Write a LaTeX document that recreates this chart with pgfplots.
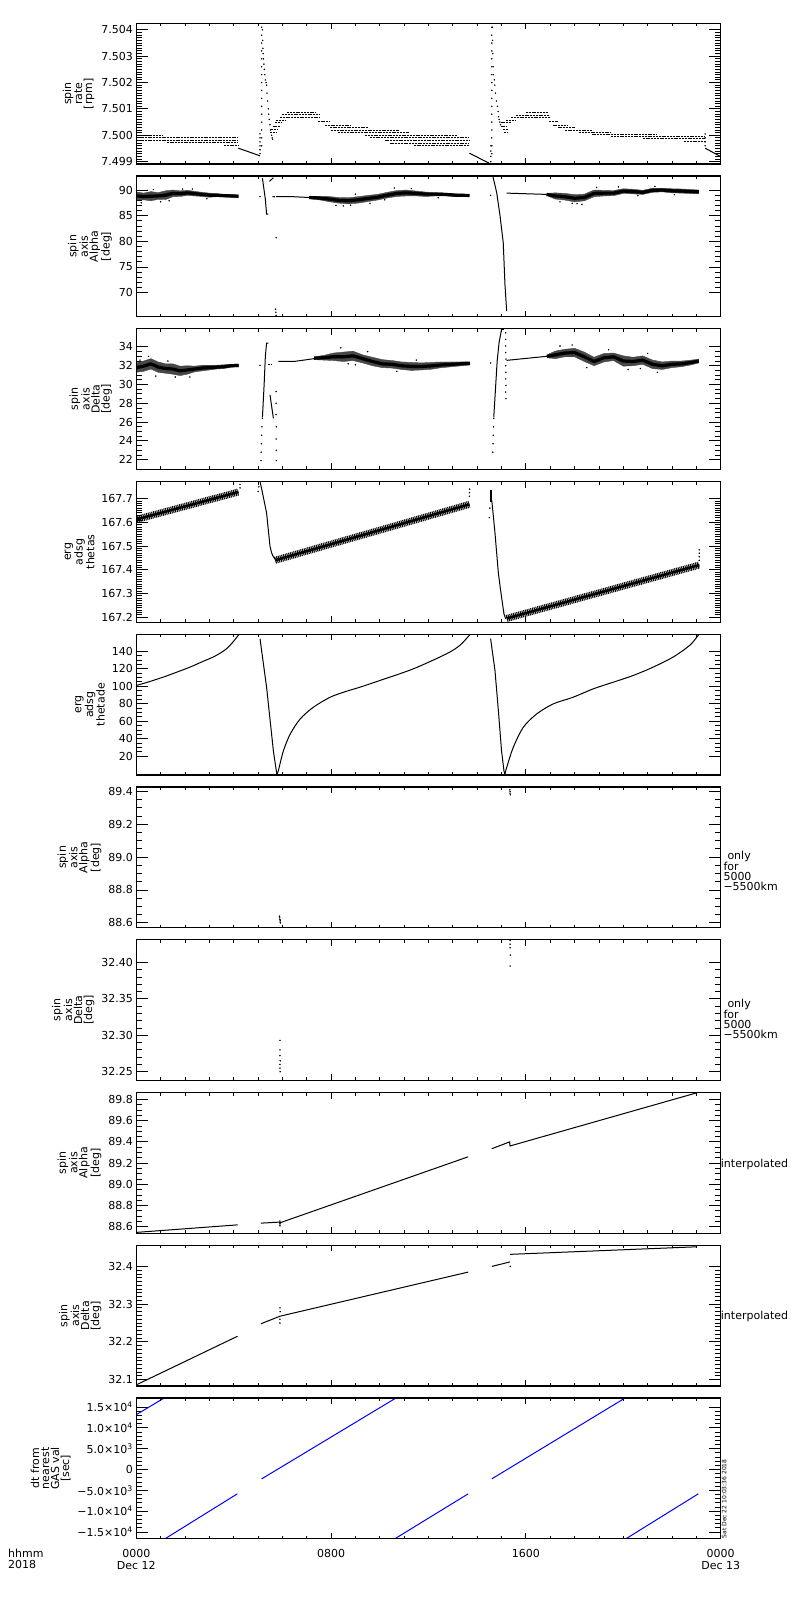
\documentclass[border=0pt]{standalone}
\usepackage{fontspec}
\setmainfont{DejaVu Sans}
\usepackage{pgfplots}
\pgfplotsset{compat=1.18}
\newcommand{\lab}{\fontsize{11}{12}\selectfont}
\newcommand{\hrow}[3]{\addplot[black, line width=0.8pt, dash pattern=on 2pt off 0.8pt] coordinates {(#1,#3) (#2,#3)};}
\pgfplotsset{
  base/.style={width=584.4pt, height=140.7pt, scale only axis, xmin=0, xmax=24, anchor=south west,
    axis line style={line width=1.1pt}, every tick/.style={black, line width=0.9pt},
    tick label style={font=\lab}, label style={font=\fontsize{11}{10}\selectfont},
    scaled y ticks=false, scaled x ticks=false,
    /pgf/number format/assume math mode=true},
  dataax/.style={base, xtick=\empty, major tick length=12pt, minor tick length=6pt,
    ylabel style={align=center}},
  tickax/.style={base, ytick=\empty, ymin=0, ymax=1, xtick={0,8,16,24}, minor xtick={1,2,...,23},
    major tick length=6pt, minor tick length=3pt, xticklabels={}},
  dots/.style={only marks, mark=*, mark size=0.5pt, black},
  ln/.style={black, line width=1pt},
  band/.style={black!72, fill=black!72, line width=0.4pt},
  core/.style={black, line width=3.2pt, line join=round},
  hatch/.style={black, line width=7pt, dash pattern=on 1pt off 0.8pt},
}
\begin{document}
\begin{tikzpicture}[x=1pt,y=1pt]
\useasboundingbox (0,0) rectangle (800,1600);

% ---------------- Panel 1: spin rate
\begin{axis}[dataax, at={(136.3pt,1436pt)}, ymin=7.49891, ymax=7.50425,
  ytick={7.499,7.500,7.501,7.502,7.503,7.504}, yticklabels={7.499,7.500,7.501,7.502,7.503,7.504},
  minor y tick num=9, ylabel={spin\\rate\\{[rpm]}}]
\hrow{0}{1.05}{7.50001}
\hrow{0}{4.19}{7.49991}
\hrow{0}{4.19}{7.49982}
\hrow{1.25}{4.19}{7.49972}
\hrow{3.6}{4.19}{7.49960}
\addplot[ln] coordinates {(4.19,7.49951) (5.08,7.49922)};
\addplot[dots] coordinates {(5.08,7.49930)(5.08,7.49945)(5.08,7.49960)(5.08,7.49975)(5.08,7.49990)(5.08,7.50005)
 (5.15,7.4996)(5.15,7.4999)(5.15,7.5002)(5.15,7.5005)(5.15,7.5008)(5.15,7.5011)(5.15,7.5014)(5.15,7.5017)
 (5.15,7.5020)(5.15,7.5023)(5.15,7.5026)(5.15,7.5029)(5.15,7.5032)(5.15,7.5035)(5.15,7.5038)(5.15,7.5041)
 (5.18,7.5040)(5.19,7.5036)(5.20,7.5033)(5.21,7.5031)(5.22,7.5029)(5.24,7.5027)(5.26,7.5025)(5.28,7.5023)
 (5.30,7.5021)(5.33,7.5020)(5.35,7.5019)(5.37,7.5016)(5.39,7.5013)(5.42,7.5010)(5.44,7.5008)(5.46,7.5006)
 (5.49,7.5004)(5.52,7.5002)(5.56,7.5000)(5.58,7.49990)(5.60,7.49985)};
\hrow{5.5}{5.75}{7.50010}
\hrow{5.55}{5.8}{7.50022}
\hrow{5.6}{5.9}{7.50035}
\hrow{5.7}{6.0}{7.50048}
\hrow{5.75}{6.1}{7.50058}
\hrow{5.9}{7.54}{7.50068}
\hrow{6.0}{7.54}{7.50078}
\hrow{6.2}{7.4}{7.50087}
\hrow{7.45}{7.95}{7.50052}
\hrow{7.75}{8.8}{7.50039}
\hrow{7.95}{9.5}{7.50029}
\hrow{8.0}{10.8}{7.50019}
\hrow{8.3}{11.2}{7.50010}
\hrow{9.4}{13.15}{7.50000}
\hrow{9.6}{13.68}{7.49990}
\hrow{10.2}{13.68}{7.49981}
\hrow{10.4}{13.68}{7.49971}
\hrow{11.4}{13.68}{7.49960}
\addplot[ln] coordinates {(13.68,7.49932) (14.55,7.49891)};
\addplot[dots] coordinates {(14.56,7.4990)(14.56,7.4992)(14.56,7.4994)(14.56,7.4996)
 (14.6,7.4993)(14.6,7.4996)(14.6,7.4999)(14.6,7.5002)(14.6,7.5005)(14.6,7.5008)(14.6,7.5011)(14.6,7.5014)
 (14.6,7.5017)(14.6,7.5020)(14.6,7.5023)(14.6,7.5026)(14.6,7.5029)(14.6,7.5032)(14.6,7.5035)(14.6,7.5038)(14.6,7.5041)
 (14.62,7.5041)(14.63,7.5036)(14.64,7.5031)(14.65,7.5026)(14.67,7.5023)(14.70,7.5021)(14.72,7.5019)(14.75,7.5016)
 (14.79,7.5013)(14.83,7.5011)(14.86,7.5009)(14.88,7.5007)(14.90,7.5006)(14.93,7.5005)(14.96,7.5004)
 (23.36,7.49960)(23.36,7.49975)(23.36,7.49990)(23.36,7.50005)};
\hrow{14.96}{15.41}{7.50048}
\hrow{14.96}{15.2}{7.50035}
\hrow{15.05}{15.25}{7.50022}
\hrow{15.1}{15.25}{7.50012}
\hrow{15.2}{15.55}{7.50058}
\hrow{15.4}{16.98}{7.50068}
\hrow{15.6}{16.98}{7.50077}
\hrow{16.0}{16.9}{7.50086}
\hrow{16.95}{17.3}{7.50052}
\hrow{17.1}{17.7}{7.50039}
\hrow{17.3}{18.0}{7.50029}
\hrow{17.6}{18.7}{7.50020}
\hrow{18.2}{19.5}{7.50011}
\hrow{18.7}{21.4}{7.50003}
\hrow{19.5}{23.36}{7.49995}
\hrow{20.8}{23.36}{7.49987}
\hrow{22.5}{23.36}{7.49978}
\addplot[ln] coordinates {(23.36,7.49951) (24,7.49919)};
\end{axis}
\begin{axis}[tickax, at={(136.3pt,1436pt)}]\end{axis}

% ---------------- Panel 2: spin axis alpha
\begin{axis}[dataax, at={(136.3pt,1283.25pt)}, ymin=65.32, ymax=92.73,
  ytick={70,75,80,85,90}, yticklabels={70,75,80,85,90}, minor y tick num=4,
  ylabel={spin\\axis\\Alpha\\{[deg]}}]
\addplot[band] coordinates {(0,89.65)(0.3,89.4)(0.6,89.7)(0.9,89.5)(1.2,89.85)(1.5,90.0)(1.8,89.85)(2.1,89.95)(2.4,89.75)(2.7,89.55)(3.0,89.4)(3.3,89.3)(3.6,89.15)(3.9,89.1)(4.19,89.05)
 (4.19,88.55)(3.9,88.6)(3.6,88.65)(3.3,88.7)(3.0,88.6)(2.7,88.75)(2.4,88.85)(2.1,88.95)(1.8,88.75)(1.5,88.7)(1.2,88.15)(0.9,88.2)(0.6,87.9)(0.3,88.1)(0,88.05)};
\addplot[core] coordinates {(0,88.85)(0.3,88.75)(0.6,88.8)(0.9,88.85)(1.2,89.0)(1.5,89.35)(1.8,89.3)(2.1,89.45)(2.4,89.3)(2.7,89.15)(3.0,89.0)(3.3,89.0)(3.6,88.9)(3.9,88.85)(4.19,88.8)};
\addplot[band] coordinates {(7.1,88.8)(7.5,88.8)(7.9,88.75)(8.3,88.55)(8.7,88.5)(9.1,88.7)(9.5,88.95)(9.9,89.15)(10.3,89.55)(10.7,89.9)(11.1,90.0)(11.5,89.8)(11.9,89.6)(12.3,89.5)(12.7,89.4)(13.1,89.25)(13.68,89.15)
 (13.68,88.75)(13.1,88.75)(12.7,88.85)(12.3,88.85)(11.9,88.75)(11.5,88.85)(11.1,88.85)(10.7,88.75)(10.3,88.45)(9.9,88.05)(9.5,87.75)(9.1,87.45)(8.7,87.3)(8.3,87.45)(7.9,87.75)(7.5,88.1)(7.1,88.3)};
\addplot[core] coordinates {(7.1,88.55)(7.5,88.45)(7.9,88.25)(8.3,88.0)(8.7,87.9)(9.1,88.1)(9.5,88.35)(9.9,88.6)(10.3,89.0)(10.7,89.35)(11.1,89.45)(11.5,89.35)(11.9,89.2)(12.3,89.2)(12.7,89.15)(13.1,89.0)(13.68,88.95)};
\addplot[band] coordinates {(16.85,89.35)(17.2,89.45)(17.6,89.35)(18.0,89.1)(18.4,89.2)(18.8,90.0)(19.2,89.95)(19.6,89.9)(20.0,90.25)(20.4,90.15)(20.8,89.95)(21.2,90.35)(21.6,90.35)(22.0,90.25)(22.4,90.2)(22.8,90.1)(23.1,90.0)
 (23.1,89.3)(22.8,89.3)(22.4,89.4)(22.0,89.45)(21.6,89.65)(21.2,89.55)(20.8,89.15)(20.4,89.25)(20.0,89.35)(19.6,88.9)(19.2,88.85)(18.8,88.7)(18.4,87.9)(18.0,87.7)(17.6,88.05)(17.2,88.25)(16.85,88.95)};
\addplot[core] coordinates {(16.85,89.15)(17.2,88.85)(17.6,88.7)(18.0,88.4)(18.4,88.55)(18.8,89.35)(19.2,89.4)(19.6,89.4)(20.0,89.8)(20.4,89.7)(20.8,89.55)(21.2,89.95)(21.6,90.0)(22.0,89.85)(22.4,89.8)(22.8,89.7)(23.1,89.65)};
\addplot[ln] coordinates {(5.74,88.7)(6.45,88.7)(7.1,88.55)};
\addplot[ln] coordinates {(15.21,89.4)(16.85,89.15)};
\addplot[ln] coordinates {(5.18,92.3)(5.3,88.2)(5.35,85.3)(5.42,85.3)};
\addplot[ln] coordinates {(5.47,91.7)(5.63,92.4)};
\addplot[ln] coordinates {(14.64,92.73)(14.8,89.5)(14.94,84.9)(15.07,79.7)(15.14,71.6)(15.21,66.4)};
\addplot[dots] coordinates {(5.08,88.7)(5.62,88.7)(5.67,88.7)(5.74,80.7)(5.72,66.8)(5.73,66.2)(5.74,65.6)(14.55,88.96)
 (0.2,87.5)(0.45,89.95)(0.7,90.1)(1.0,87.7)(1.35,87.9)(1.9,90.2)(2.3,90.2)(2.9,88.3)(8.2,87.0)(8.5,86.9)(8.8,87.05)(9.0,89.2)(9.6,87.4)(10.2,88.1)(10.6,90.4)(11.3,90.3)(12.4,88.5)
 (17.4,87.7)(17.9,87.4)(18.1,87.35)(18.3,87.2)(18.9,90.5)(19.8,90.6)(20.6,88.9)(21.3,90.7)(22.1,89.1)};
\end{axis}
\begin{axis}[tickax, at={(136.3pt,1283.25pt)}]\end{axis}

% ---------------- Panel 3: spin axis delta
\begin{axis}[dataax, at={(136.3pt,1130.5pt)}, ymin=20.96, ymax=35.93,
  ytick={22,24,26,28,30,32,34}, yticklabels={22,24,26,28,30,32,34}, minor y tick num=3,
  ylabel={spin\\axis\\Delta\\{[deg]}}]
\addplot[band] coordinates {(0,32.3)(0.3,32.5)(0.6,32.75)(0.9,32.4)(1.2,32.2)(1.5,32.2)(1.8,31.95)(2.1,32.0)(2.4,31.95)(2.7,32.05)(3.0,32.05)(3.3,32.05)(3.6,32.1)(3.9,32.15)(4.2,32.18)
 (4.2,31.88)(3.9,31.85)(3.6,31.7)(3.3,31.65)(3.0,31.55)(2.7,31.45)(2.4,31.35)(2.1,31.1)(1.8,30.95)(1.5,31.1)(1.2,31.2)(0.9,31.3)(0.6,31.65)(0.3,31.4)(0,31.3)};
\addplot[core] coordinates {(0,31.8)(0.3,31.95)(0.6,32.2)(0.9,31.85)(1.2,31.7)(1.5,31.65)(1.8,31.45)(2.1,31.55)(2.4,31.65)(2.7,31.75)(3.0,31.8)(3.3,31.85)(3.6,31.9)(3.9,32.0)(4.2,32.03)};
\addplot[band] coordinates {(7.3,32.95)(7.7,33.1)(8.1,33.35)(8.5,33.45)(8.9,33.55)(9.3,33.15)(9.7,32.9)(10.1,32.65)(10.5,32.55)(10.9,32.4)(11.3,32.35)(11.7,32.3)(12.1,32.35)(12.5,32.4)(12.9,32.4)(13.3,32.4)(13.7,32.42)
 (13.7,32.08)(13.3,31.98)(12.9,31.88)(12.5,31.78)(12.1,31.62)(11.7,31.55)(11.3,31.5)(10.9,31.6)(10.5,31.75)(10.1,31.8)(9.7,32.0)(9.3,32.3)(8.9,32.55)(8.5,32.45)(8.1,32.55)(7.7,32.6)(7.3,32.65)};
\addplot[core] coordinates {(7.3,32.8)(7.7,32.85)(8.1,32.95)(8.5,32.95)(8.9,33.05)(9.3,32.75)(9.7,32.45)(10.1,32.2)(10.5,32.15)(10.9,32.0)(11.3,31.92)(11.7,31.92)(12.1,31.98)(12.5,32.08)(12.9,32.14)(13.3,32.2)(13.7,32.25)};
\addplot[band] coordinates {(16.86,33.15)(17.2,33.55)(17.6,33.75)(18.0,33.85)(18.4,33.45)(18.8,32.9)(19.2,33.3)(19.6,33.35)(20.0,33.05)(20.4,32.9)(20.8,33.05)(21.2,32.6)(21.6,32.4)(22.0,32.5)(22.4,32.5)(22.8,32.6)(23.1,32.7)
 (23.1,32.3)(22.8,32.1)(22.4,31.9)(22.0,31.8)(21.6,31.6)(21.2,31.7)(20.8,32.15)(20.4,32.0)(20.0,31.95)(19.6,32.55)(19.2,32.4)(18.8,32.0)(18.4,32.45)(18.0,32.95)(17.6,32.95)(17.2,32.75)(16.86,32.85)};
\addplot[core] coordinates {(16.86,33.0)(17.2,33.15)(17.6,33.35)(18.0,33.4)(18.4,32.95)(18.8,32.45)(19.2,32.85)(19.6,32.95)(20.0,32.5)(20.4,32.45)(20.8,32.6)(21.2,32.15)(21.6,32.0)(22.0,32.15)(22.4,32.2)(22.8,32.35)(23.1,32.5)};
\addplot[ln] coordinates {(5.18,26.5)(5.25,30.0)(5.3,33.0)(5.35,34.4)(5.42,34.4)};
\addplot[black, line width=1pt, dash pattern=on 2pt off 1pt] coordinates {(5.42,32.1)(5.56,32.1)};
\addplot[ln] coordinates {(5.49,28.9)(5.63,26.4)};
\addplot[ln] coordinates {(5.83,32.46)(6.5,32.46)(7.3,32.75)};
\addplot[ln] coordinates {(14.68,26.5)(14.75,29.5)(14.82,32.5)(14.9,34.5)(15.0,35.86)(15.1,35.86)};
\addplot[ln] coordinates {(15.21,32.57)(16.86,33.0)};
\addplot[dots] coordinates {(5.08,32.04)(5.12,21.9)(5.13,22.8)(5.14,23.7)(5.15,24.6)(5.16,25.5)(5.18,26.4)
 (5.74,29.25)(5.74,28.0)(5.74,26.8)(5.75,25.5)(5.74,24.2)(5.75,23.0)(5.75,21.9)
 (14.55,32.29)(14.64,22.8)(14.65,23.7)(14.66,24.6)(14.67,25.5)(14.68,26.4)
 (15.17,35.5)(15.17,34.8)(15.17,34.1)(15.17,33.4)(15.18,32.7)(15.17,32.0)(15.18,31.3)(15.17,30.6)(15.18,29.9)(15.17,29.2)(15.18,28.5)
 (0.15,32.6)(0.5,33.0)(0.8,30.9)(1.3,32.5)(1.6,30.8)(2.2,30.8)(8.4,33.9)(8.7,32.2)(9.0,32.1)(9.5,33.5)(10.7,31.4)(11.5,32.6)
 (17.4,34.1)(17.9,34.2)(18.5,31.8)(19.4,33.7)(20.2,31.6)(20.7,31.7)(21.4,31.3)(21.0,33.3)};
\end{axis}
\begin{axis}[tickax, at={(136.3pt,1130.5pt)}]\end{axis}

% ---------------- Panel 4: erg adsg thetas
\begin{axis}[dataax, at={(136.3pt,977.75pt)}, ymin=167.179, ymax=167.772,
  ytick={167.2,167.3,167.4,167.5,167.6,167.7}, yticklabels={167.2,167.3,167.4,167.5,167.6,167.7},
  minor y tick num=9, ylabel={erg\\adsg\\thetas}]
\addplot[hatch] coordinates {(0,167.612)(4.2,167.728)};
\addplot[black, line width=2.5pt] coordinates {(0,167.612)(4.2,167.728)};
\addplot[ln] coordinates {(5.08,167.772)(5.15,167.74)(5.25,167.69)(5.35,167.64)(5.42,167.57)(5.49,167.50)(5.56,167.47)(5.63,167.455)(5.7,167.445)};
\addplot[hatch] coordinates {(5.7,167.44)(13.68,167.676)};
\addplot[black, line width=2.5pt] coordinates {(5.7,167.44)(13.68,167.676)};
\addplot[black, line width=2pt] coordinates {(14.55,167.735)(14.55,167.685)};
\addplot[ln] coordinates {(14.56,167.70)(14.6,167.69)(14.66,167.63)(14.73,167.555)(14.8,167.47)(14.87,167.385)(14.94,167.33)(15.0,167.285)(15.1,167.214)(15.17,167.193)};
\addplot[hatch] coordinates {(15.21,167.195)(23.12,167.42)};
\addplot[black, line width=2.5pt] coordinates {(15.21,167.195)(23.12,167.42)};
\addplot[dots] coordinates {(4.26,167.76)(4.26,167.745)(5.0,167.73)(5.03,167.75)(13.68,167.725)(13.68,167.71)(13.69,167.74)
 (14.5,167.62)(14.52,167.66)(23.12,167.484)(23.12,167.47)(23.12,167.455)(23.12,167.44)};
\end{axis}
\begin{axis}[tickax, at={(136.3pt,977.75pt)}]\end{axis}

% ---------------- Panel 5: erg adsg thetade
\begin{axis}[dataax, at={(136.3pt,825pt)}, ymin=-1.5, ymax=159.5,
  ytick={20,40,60,80,100,120,140}, yticklabels={20,40,60,80,100,120,140}, minor y tick num=3,
  ylabel={erg\\adsg\\thetade}]
\addplot[ln, smooth] coordinates {(0,100.9)(0.5,105)(1.11,110.5)(1.6,115.5)(2.21,122)(2.7,128)(3.16,133.5)(3.45,138)(3.71,143)(3.95,150)(4.19,158.4)(4.22,159.5)};
\addplot[ln] coordinates {(5.08,154.6)(5.35,99)(5.63,26)(5.70,12.7)(5.77,-0.7)};
\addplot[ln, smooth] coordinates {(5.77,-0.7)(5.83,3.1)(6.04,26)(6.32,45.3)(6.73,62.6)(7.27,76)(7.96,87.5)(8.6,94)(9.19,99)(10.0,106.6)(11.38,120)(12.75,137.3)(13.29,146.9)(13.68,158.4)(13.72,159.5)};
\addplot[ln] coordinates {(14.55,154.6)(14.73,118)(14.87,72)(15.0,26)(15.1,3.1)(15.14,-0.7)};
\addplot[ln, smooth] coordinates {(15.14,-0.7)(15.21,7)(15.48,30)(15.89,53)(16.44,68.3)(17.12,79.8)(17.94,87.5)(18.76,97)(19.59,104.7)(20.41,112.4)(21.23,122)(22.05,133.5)(22.73,146.9)(23.08,158.4)(23.12,159.5)};
\end{axis}
\begin{axis}[tickax, at={(136.3pt,825pt)}]\end{axis}

% ---------------- Panel 6: alpha only 5000-5500km
\begin{axis}[dataax, at={(136.3pt,672.25pt)}, ymin=88.57, ymax=89.427,
  ytick={88.6,88.8,89.0,89.2,89.4}, yticklabels={88.6,88.8,89.0,89.2,89.4}, minor y tick num=3,
  ylabel={spin\\axis\\Alpha\\{[deg]}}]
\addplot[dots] coordinates {(5.88,88.64)(5.89,88.63)(5.9,88.62)(5.91,88.615)(5.91,88.605)(5.92,88.6)
 (15.34,89.41)(15.35,89.40)(15.35,89.39)(15.36,89.38)};
\end{axis}
\begin{axis}[tickax, at={(136.3pt,672.25pt)}]\end{axis}

% ---------------- Panel 7: delta only 5000-5500km
\begin{axis}[dataax, at={(136.3pt,519.5pt)}, ymin=32.238, ymax=32.431,
  ytick={32.25,32.30,32.35,32.40}, yticklabels={32.25,32.30,32.35,32.40}, minor y tick num=4,
  ylabel={spin\\axis\\Delta\\{[deg]}}]
\addplot[dots] coordinates {(5.9,32.293)(5.9,32.28)(5.9,32.272)(5.91,32.265)(5.9,32.26)(5.9,32.255)(5.91,32.25)
 (15.35,32.43)(15.35,32.425)(15.35,32.42)(15.36,32.41)(15.35,32.395)};
\end{axis}
\begin{axis}[tickax, at={(136.3pt,519.5pt)}]\end{axis}

% ---------------- Panel 8: alpha interpolated
\begin{axis}[dataax, at={(136.3pt,366.75pt)}, ymin=88.54, ymax=89.865,
  ytick={88.6,88.8,89.0,89.2,89.4,89.6,89.8}, yticklabels={88.6,88.8,89.0,89.2,89.4,89.6,89.8}, minor y tick num=3,
  ylabel={spin\\axis\\Alpha\\{[deg]}}]
\addplot[ln] coordinates {(0,88.548)(4.16,88.619)};
\addplot[ln] coordinates {(5.12,88.635)(5.88,88.645)(5.9,88.625)(5.92,88.64)(13.63,89.26)};
\addplot[ln] coordinates {(14.6,89.336)(15.33,89.40)(15.35,89.362)(23.01,89.862)};
\addplot[dots] coordinates {(5.9,88.61)(5.9,88.655)};
\end{axis}
\begin{axis}[tickax, at={(136.3pt,366.75pt)}]\end{axis}

% ---------------- Panel 9: delta interpolated
\begin{axis}[dataax, at={(136.3pt,214pt)}, ymin=32.083, ymax=32.456,
  ytick={32.1,32.2,32.3,32.4}, yticklabels={32.1,32.2,32.3,32.4}, minor y tick num=9,
  ylabel={spin\\axis\\Delta\\{[deg]}}]
\addplot[ln] coordinates {(0,32.086)(4.16,32.215)};
\addplot[ln] coordinates {(5.12,32.248)(5.9,32.268)(13.63,32.385)};
\addplot[ln] coordinates {(14.6,32.40)(15.35,32.412)};
\addplot[ln] coordinates {(15.35,32.432)(23.0,32.452)};
\addplot[dots] coordinates {(5.9,32.25)(5.9,32.26)(5.91,32.28)(5.9,32.29)(15.36,32.40)};
\end{axis}
\begin{axis}[tickax, at={(136.3pt,214pt)}]\end{axis}

% ---------------- Panel 10: dt from nearest GAS val
\begin{axis}[dataax, at={(136.3pt,61.25pt)}, ymin=-16600, ymax=17150,
  ytick={-15000,-10000,-5000,0,5000,10000,15000},
  yticklabels={−1.5×10\textsuperscript{4},−1.0×10\textsuperscript{4},−5.0×10\textsuperscript{3},0,5.0×10\textsuperscript{3},1.0×10\textsuperscript{4},1.5×10\textsuperscript{4}},
  minor y tick num=4, ylabel={dt from\\nearest\\GAS val\\{[sec]}}]
\addplot[blue, line width=1pt] coordinates {(0,13165)(1.14,17150)};
\addplot[blue, line width=1pt] coordinates {(1.18,-16600)(4.15,-5823)};
\addplot[blue, line width=1pt] coordinates {(5.15,-2233)(10.66,17150)};
\addplot[blue, line width=1pt] coordinates {(10.62,-16600)(13.63,-5823)};
\addplot[blue, line width=1pt] coordinates {(14.6,-2233)(20.07,17150)};
\addplot[blue, line width=1pt] coordinates {(20.11,-16600)(23.08,-5823)};
\end{axis}
\begin{axis}[tickax, at={(136.3pt,61.25pt)},
  xticklabels={{0000\\Dec 12},{0800},{1600},{0000\\Dec 13}},
  xticklabel style={align=center, yshift=-6.9pt, font=\fontsize{11}{11.7}\selectfont}]\end{axis}

% ---------------- annotations
\node[anchor=base west, inner sep=0, font=\lab] at (8,42.7) {hhmm};
\node[anchor=base west, inner sep=0, font=\lab] at (8,31.0) {2018};
\node[anchor=west, inner sep=0, font=\lab] at (727.3,744) {only};
\node[anchor=west, inner sep=0, font=\lab] at (723.3,733.7) {for};
\node[anchor=west, inner sep=0, font=\lab] at (723.3,723.4) {5000};
\node[anchor=west, inner sep=0, font=\lab] at (723.3,713.1) {−5500km};
\node[anchor=west, inner sep=0, font=\lab] at (727.3,596) {only};
\node[anchor=west, inner sep=0, font=\lab] at (723.3,585.7) {for};
\node[anchor=west, inner sep=0, font=\lab] at (723.3,575.4) {5000};
\node[anchor=west, inner sep=0, font=\lab] at (723.3,565.1) {−5500km};
\node[anchor=west, inner sep=0, font=\lab] at (720.7,435.7) {interpolated};
\node[anchor=west, inner sep=0, font=\lab] at (720.7,284) {interpolated};
\node[rotate=90, anchor=north west, inner sep=0, font=\fontsize{6}{7}\selectfont] at (721.7,61.5) {Sat Dec 22 10:03:36 2018};
\end{tikzpicture}
\end{document}
